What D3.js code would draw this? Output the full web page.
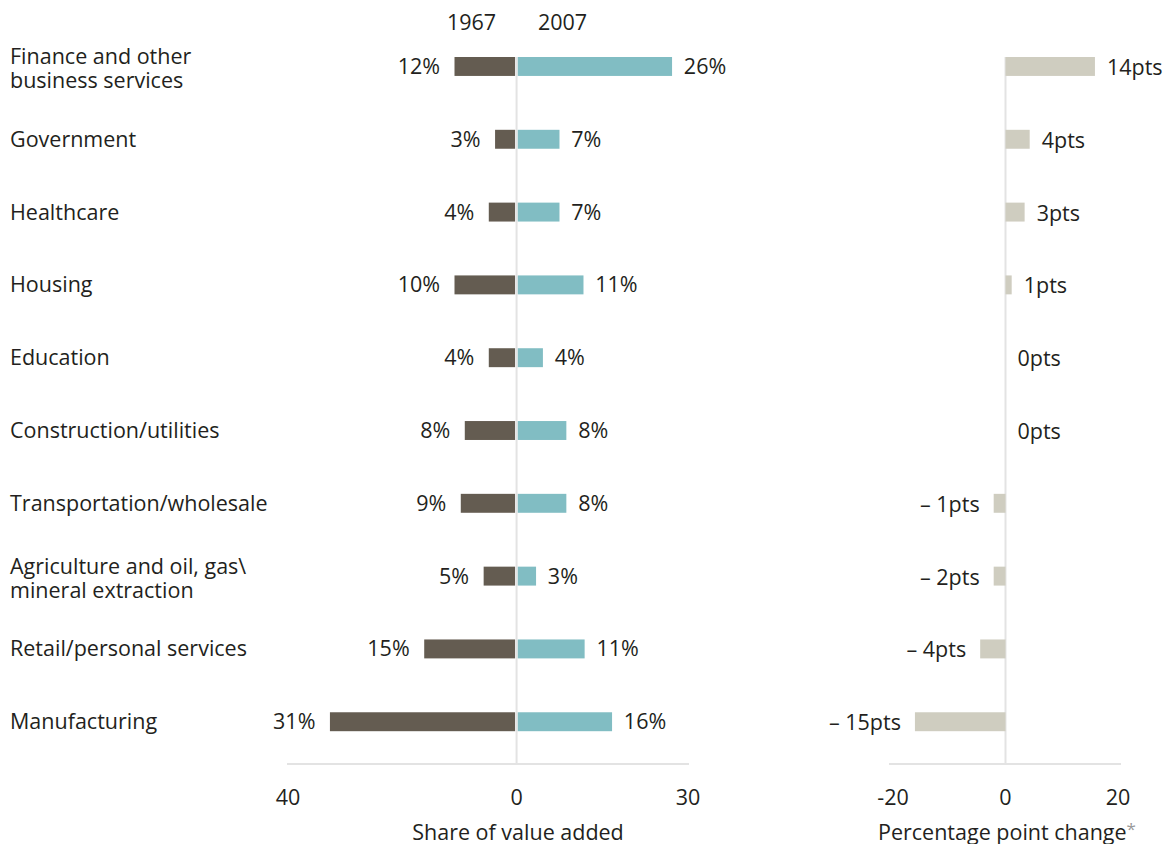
<!DOCTYPE html>
<html>
<head>
<meta charset="utf-8">
<script src="https://cdn.jsdelivr.net/npm/d3@7"></script>
<style>
  body { margin: 0; background: #fff; }
  text { font-family: "Open Sans", sans-serif; fill: #231f20; }
</style>
</head>
<body>
<div id="chart"></div>
<script>
// categories, top to bottom
var categories = [
    "Finance and other|business services",
    "Government",
    "Healthcare",
    "Housing",
    "Education",
    "Construction/utilities",
    "Transportation/wholesale",
    "Agriculture and oil, gas\\|mineral extraction",
    "Retail/personal services",
    "Manufacturing"
];
// bar lengths as drawn (share of value added)
var share1967 = [10.6, 3.5, 4.6, 10.6, 4.6, 8.8, 9.5, 5.5, 15.9, 32.4];
var share2007 = [27.0, 7.3, 7.3, 11.5, 4.4, 8.5, 8.5, 3.2, 11.7, 16.5];
var change = [15.9, 4.3, 3.4, 1.1, 0, 0, -2.1, -2.1, -4.5, -16.1];
// printed labels
var labels1967 = ["12%", "3%", "4%", "10%", "4%", "8%", "9%", "5%", "15%", "31%"];
var labels2007 = ["26%", "7%", "7%", "11%", "4%", "8%", "8%", "3%", "11%", "16%"];
var changeLabels = ["14pts", "4pts", "3pts", "1pts", "0pts", "0pts", "\u2013 1pts", "\u2013 2pts", "\u2013 4pts", "\u2013 15pts"];
// axis ticks
var shareTicks = [-40, 0, 30];
var changeTicks = [-20, 0, 20];

var width = 1166, height = 844;
var fontSize = 21.5;
var col1967 = "#645c51", col2007 = "#81bdc3", colChange = "#cfcdc0", gridCol = "#e3e3e3";

var svg = d3.select("#chart").append("svg")
    .attr("width", width)
    .attr("height", height);

var y = d3.scaleBand()
    .domain(categories)
    .range([20.6, 767.6])
    .paddingInner(0.74)
    .paddingOuter(0.5);

var xShare = d3.scaleLinear().domain([-40, 30]).range([288, 688]);
var xChange = d3.scaleLinear().domain([-20, 20]).range([893, 1118]);

var axisY = 764;
var lineTop = y(categories[0]);

// row labels
var rowLabel = svg.append("g").selectAll("text")
    .data(categories)
    .enter()
    .append("text")
    .attr("x", 10)
    .attr("y", function (d) { return y(d) + y.bandwidth() / 2; })
    .style("font-size", fontSize + "px");
rowLabel.each(function (d) {
    var lines = d.split("|");
    var t = d3.select(this);
    var off = lines.length > 1 ? -(lines.length - 1) * 12 + 2 : 0;
    lines.forEach(function (l, i) {
        t.append("tspan")
            .attr("x", 10)
            .attr("dy", i === 0 ? (off + 7.5) + "px" : "24px")
            .text(l);
    });
});

// share panel: axis line + center line
svg.append("line")
    .attr("x1", xShare(-40) - 1).attr("x2", xShare(30) + 1)
    .attr("y1", axisY).attr("y2", axisY)
    .attr("stroke", gridCol).attr("stroke-width", 2);
svg.append("line")
    .attr("x1", xShare(0)).attr("x2", xShare(0))
    .attr("y1", lineTop).attr("y2", axisY)
    .attr("stroke", gridCol).attr("stroke-width", 2);

svg.append("g").selectAll("rect")
    .data(share1967)
    .enter()
    .append("rect")
    .attr("x", function (d) { return xShare(-d) - 1.5; })
    .attr("y", function (d, i) { return y(categories[i]); })
    .attr("width", function (d) { return xShare(0) - xShare(-d); })
    .attr("height", y.bandwidth())
    .attr("fill", col1967);

svg.append("g").selectAll("rect")
    .data(share2007)
    .enter()
    .append("rect")
    .attr("x", xShare(0) + 1.2)
    .attr("y", function (d, i) { return y(categories[i]); })
    .attr("width", function (d) { return xShare(d) - xShare(0); })
    .attr("height", y.bandwidth())
    .attr("fill", col2007);

svg.append("g").selectAll("text")
    .data(share1967)
    .enter()
    .append("text")
    .attr("x", function (d) { return xShare(-d) - 16; })
    .attr("y", function (d, i) { return y(categories[i]) + y.bandwidth() / 2 + 7.5; })
    .attr("text-anchor", "end")
    .style("font-size", fontSize + "px")
    .text(function (d, i) { return labels1967[i]; });

svg.append("g").selectAll("text")
    .data(share2007)
    .enter()
    .append("text")
    .attr("x", function (d) { return xShare(d) + 13; })
    .attr("y", function (d, i) { return y(categories[i]) + y.bandwidth() / 2 + 7.5; })
    .style("font-size", fontSize + "px")
    .text(function (d, i) { return labels2007[i]; });

// year headers
svg.append("text").attr("x", xShare(0) - 45).attr("y", 30)
    .attr("text-anchor", "middle").style("font-size", fontSize + "px").text("1967");
svg.append("text").attr("x", xShare(0) + 46).attr("y", 30)
    .attr("text-anchor", "middle").style("font-size", fontSize + "px").text("2007");

// share ticks (left side shown as positive)
svg.append("g").selectAll("text")
    .data(shareTicks)
    .enter()
    .append("text")
    .attr("x", function (d) { return xShare(d); })
    .attr("y", 805)
    .attr("text-anchor", "middle")
    .style("font-size", fontSize + "px")
    .text(function (d) { return Math.abs(d); });

svg.append("text")
    .attr("x", 518).attr("y", 840)
    .attr("text-anchor", "middle")
    .style("font-size", fontSize + "px")
    .text("Share of value added");

// change panel
svg.append("line")
    .attr("x1", xChange(-20) - 4).attr("x2", xChange(20) + 3)
    .attr("y1", axisY).attr("y2", axisY)
    .attr("stroke", gridCol).attr("stroke-width", 2);
svg.append("line")
    .attr("x1", xChange(0)).attr("x2", xChange(0))
    .attr("y1", lineTop).attr("y2", axisY)
    .attr("stroke", gridCol).attr("stroke-width", 2);

svg.append("g").selectAll("rect")
    .data(change)
    .enter()
    .append("rect")
    .attr("x", function (d) { return xChange(Math.min(0, d)); })
    .attr("y", function (d, i) { return y(categories[i]); })
    .attr("width", function (d) { return Math.abs(xChange(d) - xChange(0)); })
    .attr("height", y.bandwidth())
    .attr("fill", colChange);

svg.append("g").selectAll("text")
    .data(change)
    .enter()
    .append("text")
    .attr("x", function (d) { return d >= 0 ? xChange(d) + 12 : xChange(d) - 14; })
    .attr("y", function (d, i) { return y(categories[i]) + y.bandwidth() / 2 + 8.5; })
    .attr("text-anchor", function (d) { return d >= 0 ? "start" : "end"; })
    .style("font-size", fontSize + "px")
    .text(function (d, i) { return changeLabels[i]; });

svg.append("g").selectAll("text")
    .data(changeTicks)
    .enter()
    .append("text")
    .attr("x", function (d) { return xChange(d); })
    .attr("y", 805)
    .attr("text-anchor", "middle")
    .style("font-size", fontSize + "px")
    .text(function (d) { return d; });

var ct = svg.append("text")
    .attr("x", 1007).attr("y", 840)
    .attr("text-anchor", "middle")
    .style("font-size", fontSize + "px");
ct.append("tspan").text("Percentage point change");
ct.append("tspan").attr("dy", "-5").style("fill", "#999").style("font-size", "17px").text("*");
</script>
</body>
</html>
